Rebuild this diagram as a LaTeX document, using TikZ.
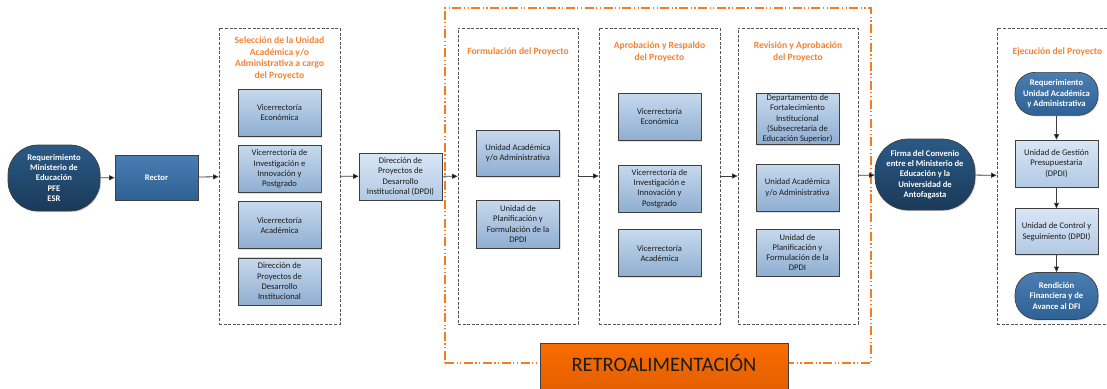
\documentclass[tikz,border=0pt]{standalone}
\usepackage{fontspec}
\setmainfont{Carlito}
\usetikzlibrary{positioning, shapes.misc, shadows, arrows.meta}

\definecolor{navytop}{HTML}{2B5A86}
\definecolor{navybot}{HTML}{1A3959}
\definecolor{midtop}{HTML}{4A7EB2}
\definecolor{midbot}{HTML}{2E6194}
\definecolor{skytop}{HTML}{C6D9EE}
\definecolor{skybot}{HTML}{8FAED1}
\definecolor{paletop}{HTML}{D8E6F5}
\definecolor{palebot}{HTML}{B2C9E4}
\definecolor{boxline}{HTML}{3F3F3F}
\definecolor{dashgray}{HTML}{555555}
\definecolor{titleorange}{HTML}{F58231}
\definecolor{frameorange}{HTML}{F57C22}
\definecolor{retrotop}{HTML}{FA6C00}
\definecolor{retrobot}{HTML}{E25F00}
\definecolor{inktext}{HTML}{1C1C1C}

\newcommand{\unitfont}{\fontsize{8.6}{10.3}\selectfont}
\newcommand{\phasefont}{\fontsize{9.6}{11.7}\selectfont\bfseries}

\begin{document}
\begin{tikzpicture}[x=1pt, y=-1pt]
\tikzset{
flow/.style={-{Triangle[length=5.5pt,width=5pt]}, draw=boxline, line width=0.8pt}, % the connectors
unit/.style={draw=boxline, line width=0.7pt, top color=skytop, bottom color=skybot, minimum width=83pt, minimum height=47pt, align=center, inner sep=0.5pt, font=\unitfont, text=inktext, drop shadow={opacity=0.25, shadow xshift=1.2pt, shadow yshift=-1.2pt}}, % light blue unit box
paleunit/.style={unit, top color=paletop, bottom color=palebot}, % lighter box (DPDI)
darkbox/.style={unit, top color=midtop, bottom color=midbot, text=white, font=\unitfont\bfseries}, % Rector
terminal/.style={rectangle, draw=boxline, line width=0.7pt, top color=navytop, bottom color=navybot, align=center, inner sep=0.5pt, text=white, font=\unitfont\bfseries, drop shadow={opacity=0.25, shadow xshift=1.2pt, shadow yshift=-1.2pt}}, % start / end shapes
midterminal/.style={terminal, top color=midtop, bottom color=midbot, minimum width=83pt}, % inside Ejecucion
phase/.style={draw=dashgray, dash pattern=on 3pt off 1.6pt, line width=0.8pt, minimum height=296pt, inner sep=0pt}, % dashed stage container
phasetitle/.style={align=center, inner sep=1pt, text=titleorange, font=\phasefont}, % orange stage title
feedback/.style={draw=frameorange, line width=1.3pt, dash pattern=on 9pt off 2.5pt on 1.2pt off 2.5pt on 1.2pt off 2.5pt, minimum width=426pt, minimum height=355pt, inner sep=0pt}, % feedback frame
}
\useasboundingbox (0,0) rectangle (1107,388);

% feedback frame round the three middle stages
\node[feedback] (retroframe) at (658,185.5) {};

% start
\node[terminal, minimum width=92pt, minimum height=66pt, rounded corners=30pt] (req) at (54,178) {Requerimiento\\Ministerio de\\Educación\\PFE\\ESR};
\node[darkbox, minimum height=45pt] (rector) at (156.5,177.5) {Rector};

% Seleccion
\node[phase, minimum width=121pt] (sel) at (279.5,176) {};
\node[phasetitle, below=8pt of sel.north] (seltitle) {Selección de la Unidad\\Académica y/o\\Administrativa a cargo\\del Proyecto};
\node[unit, anchor=north] (sel1) at (279.5,89) {Vicerrectoría\\Económica};
\node[unit, below=8.5pt of sel1] (sel2) {Vicerrectoría de\\Investigación e\\Innovación y\\Postgrado};
\node[unit, below=8.5pt of sel2] (sel3) {Vicerrectoría\\Académica};
\node[unit, below=8.5pt of sel3] (sel4) {Dirección de\\Proyectos de\\Desarrollo\\Institucional};

\node[paleunit] (dpdi) at (400.5,176.5) {Dirección de\\Proyectos de\\Desarrollo\\Institucional (DPDI)};

% Formulacion
\node[phase, minimum width=120pt] (form) at (518,176) {};
\node[phasetitle, below=19pt of form.north] (formtitle) {Formulación del Proyecto};
\node[unit, anchor=north, minimum height=46pt] (form1) at (518,130) {Unidad Académica\\y/o Administrativa};
\node[unit, below=23pt of form1, minimum height=48pt] (form2) {Unidad de\\Planificación y\\Formulación de la\\DPDI};

% Aprobacion
\node[phase, minimum width=121pt] (apro) at (659.5,176) {};
\node[phasetitle, below=13pt of apro.north] (aprotitle) {Aprobación y Respaldo\\del Proyecto};
\node[unit, anchor=north] (apro1) at (659.5,93) {Vicerrectoría\\Económica};
\node[unit, below=24pt of apro1] (apro2) {Vicerrectoría de\\Investigación e\\Innovación y\\Postgrado};
\node[unit, below=17pt of apro2] (apro3) {Vicerrectoría\\Académica};

% Revision
\node[phase, minimum width=120pt] (revi) at (798,176) {};
\node[phasetitle, below=13pt of revi.north] (revititle) {Revisión y Aprobación\\del Proyecto};
\node[unit, anchor=north, minimum height=51pt] (revi1) at (797.5,93) {Departamento de\\Fortalecimiento\\Institucional\\(Subsecretaria de\\Educación Superior)};
\node[unit, anchor=north] (revi2) at (797.5,164) {Unidad Académica\\y/o Administrativa};
\node[unit, below=17pt of revi2] (revi3) {Unidad de\\Planificación y\\Formulación de la\\DPDI};

\node[terminal, minimum width=100pt, minimum height=71pt, rounded corners=33pt] (firma) at (925,174.5) {Firma del Convenio\\entre el Ministerio de\\Educación y la\\Universidad de\\Antofagasta};

% Ejecucion
\node[phase, minimum width=121pt] (ejec) at (1057.5,176) {};
\node[phasetitle, below=19pt of ejec.north] (ejectitle) {Ejecución del Proyecto};
\node[midterminal, anchor=north, minimum height=43pt, rounded corners=20pt] (ejec1) at (1056.5,72) {Requerimiento\\Unidad Académica\\y Administrativa};
\node[paleunit, below=24pt of ejec1] (ejec2) {Unidad de Gestión\\Presupuestaria\\(DPDI)};
\node[paleunit, below=21pt of ejec2, minimum height=46pt] (ejec3) {Unidad de Control y\\Seguimiento (DPDI)};
\node[midterminal, below=17pt of ejec3, minimum height=47pt, rounded corners=22pt] (ejec4) {Rendición\\Financiera y de\\Avance al DFI};

% feedback label
\node[draw=boxline, line width=0.7pt, top color=retrotop, bottom color=retrobot, minimum width=248pt, minimum height=48pt, font=\fontsize{20.5}{24}\selectfont, text=inktext, text height=13pt, text depth=4pt] (retro) at (664,367) {RETROALIMENTACIÓN};

\draw[flow] (req) edge (rector)
	(rector) edge (sel)
	(sel) edge (dpdi)
	(dpdi) edge (form)
	(form) edge (apro)
	(apro) edge (revi)
	(revi) edge (firma)
	(firma) edge (ejec)
	(ejec1) edge (ejec2)
	(ejec2) edge (ejec3)
	(ejec3) edge (ejec4);
\end{tikzpicture}
\end{document}
